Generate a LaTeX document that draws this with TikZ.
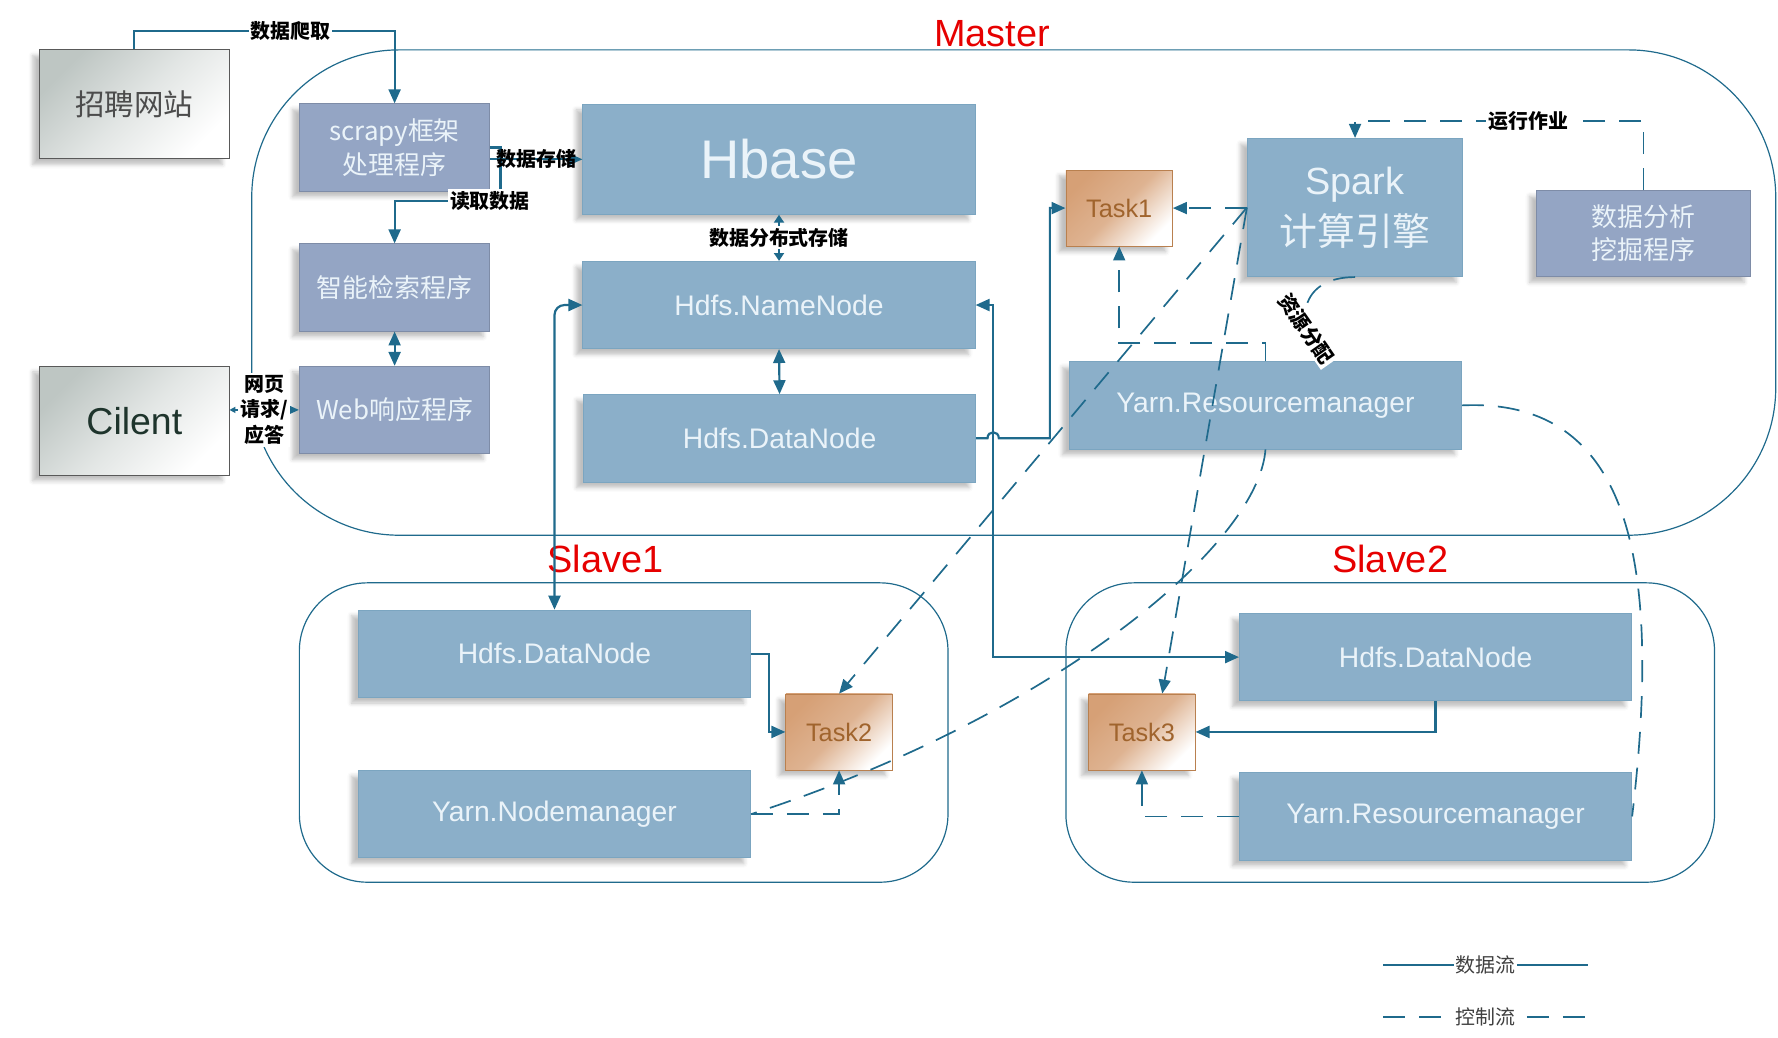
\documentclass[tikz,border=0pt]{standalone}
\usepackage{fontspec}
\setmainfont{Liberation Sans}
\newfontfamily\cjk{Noto Sans CJK SC}
\usepackage{tikz}
\usetikzlibrary{arrows.meta,fit,calc,shadows.blur}

\definecolor{lineblue}{RGB}{31,106,140}
\definecolor{boxblue}{RGB}{139,175,201}
\definecolor{boxpurple}{RGB}{148,165,196}
\definecolor{boxtext}{RGB}{234,243,249}
\definecolor{taskfill}{RGB}{214,160,118}
\definecolor{taskedge}{RGB}{185,128,79}
\definecolor{tasktext}{RGB}{160,100,45}
\definecolor{grayfill}{RGB}{190,198,195}
\definecolor{clienttext}{RGB}{30,52,44}
\definecolor{titlered}{RGB}{230,0,0}

\begin{document}
\begin{tikzpicture}[x=0.2mm,y=-0.2mm,>={Triangle[length=7pt,width=6pt]},
		flow/.style={draw=lineblue,line width=1.1pt},
		ctrl/.style={draw=lineblue,line width=0.85pt,dash pattern=on 11pt off 7pt},
		lbl/.style={fill=white,inner sep=1pt,text=black,font=\cjk\bfseries\fontsize{10}{13}\selectfont},
		leg/.style={fill=white,inner sep=1pt,text=black!75,font=\cjk\fontsize{10}{12}\selectfont},
		title/.style={text=titlered,font=\fontsize{19}{22}\selectfont},
		sh/.style={blur shadow={shadow xshift=-1.2mm,shadow yshift=-1mm,shadow opacity=25}}]
	\tikzstyle{bbox}=[rectangle,fill=boxblue,draw=boxblue!85!lineblue,line width=0.4pt,
		minimum width=69.2mm,minimum height=15.4mm,inner sep=0pt,text=boxtext,
		font=\fontsize{14.2}{17}\selectfont,sh]
	\tikzstyle{pbox}=[bbox,fill=boxpurple,draw=boxpurple!85!black,minimum width=33.6mm,
		font=\cjk\fontsize{13}{17}\selectfont,align=center]
	\tikzstyle{gbox}=[rectangle,draw=black!65,top color=grayfill,bottom color=white,
		middle color=grayfill!45!white,shading angle=45,minimum width=33.4mm,
		minimum height=19.2mm,sh]
	\tikzstyle{task}=[rectangle,draw=taskedge,top color=taskfill,bottom color=white,
		middle color=taskfill!80!white,shading angle=45,minimum width=18.8mm,
		minimum height=13.4mm,text=tasktext,font=\fontsize{12.7}{15}\selectfont,sh]
	\useasboundingbox (0,0) rectangle (1568,915);
	% containers
	\node (M) [draw=lineblue,line width=0.6pt,rounded corners=26mm,inner sep=0pt,
		fit={(222,44) (1566,472)}] {};
	\node (S1) [draw=lineblue,line width=0.6pt,rounded corners=12mm,inner sep=0pt,
		fit={(264,514) (836,778)}] {};
	\node (S2) [draw=lineblue,line width=0.6pt,rounded corners=12mm,inner sep=0pt,
		fit={(940,514) (1512,778)}] {};
	\node[title] (Mt) at (875,30) {Master};
	\node[title] (S1t) at (534,493) {Slave1};
	\node[title] (S2t) at (1226,493) {Slave2};
	% boxes
	\node[gbox,text=black!70,font=\cjk\fontsize{14.8}{17}\selectfont] (Site) at (118.5,92) {招聘网站};
	\node[gbox,text=clienttext,font=\fontsize{18.8}{22}\selectfont] (Cl) at (118.5,371) {Cilent};
	\node[pbox] (Scr) at (348,130) {scrapy框架\\处理程序};
	\node[pbox] (Srch) at (348,253.5) {智能检索程序};
	\node[pbox] (Resp) at (348,361.5) {Web响应程序};
	\node[bbox,minimum height=19.4mm,font=\fontsize{27.3}{32}\selectfont] (HB) at (687,140.5) {Hbase};
	\node[bbox] (NN) at (687,269) {Hdfs.NameNode};
	\node[bbox] (DN) at (687.5,386.5) {Hdfs.DataNode};
	\node[task] (T1) at (987,183.5) {Task1};
	\node[bbox,minimum width=38mm,minimum height=24.4mm,align=center,
		font=\fontsize{19}{25.6}\selectfont] (SP) at (1195,183) {Spark\\{\cjk 计算引擎}};
	\node[pbox,minimum width=37.8mm,minimum height=15.2mm,
		font=\cjk\fontsize{13}{16.5}\selectfont] (DM) at (1449.5,206) {数据分析\\挖掘程序};
	\node[bbox] (RM) at (1116,357.5) {Yarn.Resourcemanager};
	\node[bbox] (DN1) at (489,576.5) {Hdfs.DataNode};
	\node[bbox] (NM1) at (489,718) {Yarn.Nodemanager};
	\node[task] (T2) at (740,645.5) {Task2};
	\node[bbox] (DN2) at (1266,579.5) {Hdfs.DataNode};
	\node[bbox] (RM2) at (1266,720) {Yarn.Resourcemanager};
	\node[task] (T3) at (1007,645.5) {Task3};
	% data flow
	\draw[flow,->] (Site.north) -- ++(0,-16) -| (Scr.north) node[lbl,pos=0.3]{数据爬取};
	\draw[flow,->] (Scr.east) -- ++(9,0) -- ++(0,47) -| (Srch.north) node[lbl,pos=0.05]{读取数据};
	\draw[flow,->] (Scr.east |- HB.west) -- (HB.west) node[lbl,fill=none,midway]{数据存储};
	\draw[flow,<->] (Srch.south) -- (Resp.north);
	\draw[flow,{Triangle[length=3pt,width=3pt]}-{Triangle[length=7pt,width=6pt]}]
		(Cl.east |- Resp.west) -- (Resp.west) node[lbl,midway,align=center]{网页\\请求/\\应答};
	\draw[flow,<->,>={Triangle[length=4pt,width=5pt]}] (HB.south) -- (NN.north)
		node[lbl,midway]{数据分布式存储};
	\draw[flow,<->] (NN.south) -- (DN.north);
	\draw[flow,<->,rounded corners=5pt] (NN.west) -| (DN1.north);
	\draw[flow,<->] (NN.east) -- ++(15,0) |- (DN2.west);
	\draw[flow,->] (DN.east) -- ++(10,0) .. controls +(0,-7) and +(0,-7) .. ++(10,0)
		-- ++(45,0) |- (T1.west);
	\draw[flow,->] (DN1.east) -- ++(16,0) |- (T2.west);
	\draw[flow,->] (DN2.south) |- (T3.east);
	% control flow
	\draw[ctrl,->] (DM.north) -- ++(0,-61) -| (SP.north) node[lbl,pos=0.2]{运行作业};
	\draw[ctrl,->] (SP.west |- T1.east) -- (T1.east);
	\draw[ctrl,->] (RM.north) -- ++(0,-16) -| (T1.south);
	\draw[ctrl] (SP.south) .. controls +(-45,0) and +(-25,-40) .. ($(RM.north)+(48,0)$)
		node[lbl,pos=0.75,rotate=-55]{资源分配};
	\draw[ctrl,->] (SP.west) -- (T2.north);
	\draw[ctrl,->] (SP.west) -- ([xshift=3.6mm]T3.north);
	\draw[ctrl] (RM.south) .. controls +(-6,84) and +(268,-87) .. (NM1.east);
	\draw[ctrl,->] (NM1.east) -| (T2.south);
	\draw[ctrl] (RM.east) .. controls +(151,-7) and +(26,-220) .. (RM2.east);
	\draw[ctrl,->] (RM2.west) -| (T3.south);
	% legend
	\coordinate (L1) at (1220,851); \coordinate (L2) at (1400,851);
	\coordinate (L3) at (1220,897); \coordinate (L4) at (1400,897);
	\draw[flow,line width=0.8pt] (L1) -- (L2) node[leg,midway]{数据流};
	\draw[ctrl] (L3) -- (L4) node[leg,midway]{控制流};
\end{tikzpicture}
\end{document}
